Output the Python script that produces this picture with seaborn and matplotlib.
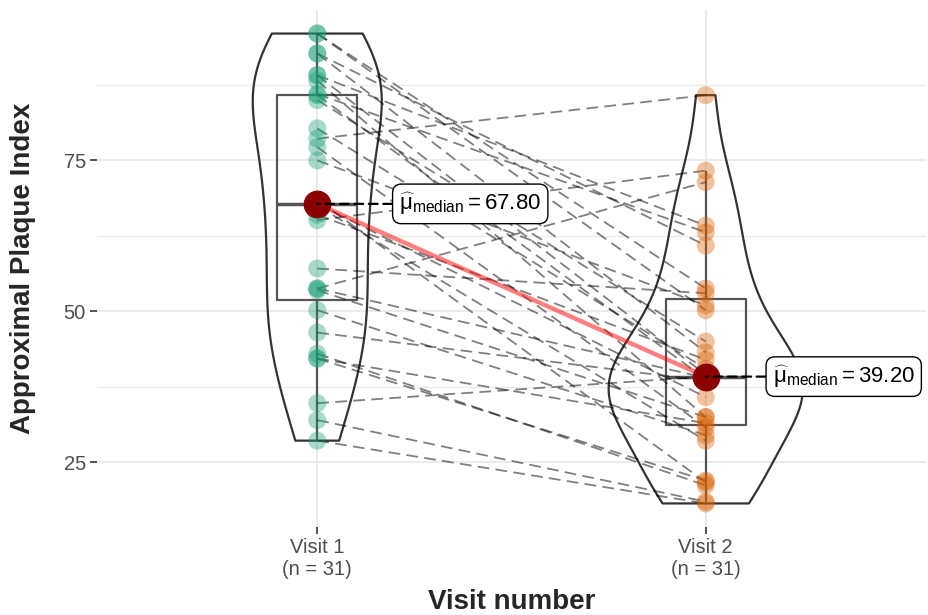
import numpy as np
import pandas as pd
import matplotlib
matplotlib.use("Agg")
import matplotlib.pyplot as plt
import seaborn as sns

categories = ["Visit 1", "Visit 2"]
tick_labels = ["Visit 1\n(n = 31)", "Visit 2\n(n = 31)"]

visit1 = [96.0, 96.0, 92.7, 92.7, 89.1, 89.1, 88.2, 86.0, 85.8, 85.0, 80.3,
          78.6, 77.2, 75.0, 68.5, 67.8, 67.5, 66.0, 65.1, 57.1, 53.8, 53.8,
          50.2, 46.5, 43.0, 53.5, 42.2, 42.2, 34.8, 32.0, 28.6]
visit2 = [50.2, 53.8, 43.2, 60.9, 39.5, 64.2, 32.5, 63.1, 38.8, 45.0, 40.5,
          85.8, 30.8, 51.0, 21.7, 35.8, 28.6, 42.0, 73.3, 53.0, 71.4, 39.0,
          29.5, 38.5, 21.2, 32.5, 31.5, 22.0, 39.2, 18.5, 18.2]

point_colors = ["#1B9E77", "#D95F02"]

sns.set_theme(style="white")
plt.rcParams["font.family"] = ["Liberation Sans", "DejaVu Sans"]
plt.rcParams["mathtext.fontset"] = "custom"
plt.rcParams["mathtext.rm"] = "Liberation Sans"
plt.rcParams["mathtext.it"] = "Liberation Sans"
plt.rcParams["mathtext.sf"] = "Liberation Sans"

n = len(visit1)
df = pd.DataFrame({
    "id": list(range(n)) * 2,
    "visit": ["Visit 1"] * n + ["Visit 2"] * n,
    "value": visit1 + visit2,
})

fig = plt.figure(figsize=(9.29, 6.15), dpi=100)
ax = fig.add_axes([97 / 929, 1 - 527 / 615, (926 - 97) / 929, (527 - 10) / 615])


def nrd0(x):
    x = np.asarray(x, float)
    sd = x.std(ddof=1)
    iqr = np.subtract(*np.percentile(x, [75, 25]))
    return 0.9 * min(sd, iqr / 1.34) * len(x) ** (-0.2)


def max_density(x, h):
    x = np.asarray(x, float)
    grid = np.linspace(x.min(), x.max(), 400)
    d = np.exp(-0.5 * ((grid[:, None] - x[None, :]) / h) ** 2).sum(1)
    d /= len(x) * h * np.sqrt(2 * np.pi)
    return d.max()


groups = [visit1, visit2]
bws = [nrd0(v) for v in groups]
maxd = [max_density(v, h) for v, h in zip(groups, bws)]
base_width = 0.5

# violins (area-scaled like ggplot)
for cat, vals, h, md in zip(categories, groups, bws, maxd):
    sub = df[df.visit == cat]
    sns.violinplot(data=sub, x="visit", y="value", order=categories, ax=ax,
                   fill=False, color="#333333", inner=None, cut=0,
                   width=base_width * md / max(maxd),
                   density_norm="width", linewidth=1.6,
                   bw_method=h / np.std(vals, ddof=1))

# boxes
sns.boxplot(data=df, x="visit", y="value", order=categories, ax=ax,
            fill=False, color="#555555", width=0.205, showcaps=False,
            fliersize=0, linewidth=1.6,
            medianprops=dict(linewidth=2.5, color="#555555"))

# paired dashed lines
for a, b in zip(visit1, visit2):
    ax.plot([0, 1], [a, b], color="black", alpha=0.5, lw=1.3,
            dashes=(6.5, 3.5), zorder=3)

# points
sns.stripplot(data=df, x="visit", y="value", order=categories, hue="visit",
              palette=point_colors, jitter=False, size=13, alpha=0.38,
              linewidth=0, ax=ax, legend=False, zorder=4)

# medians
medians = [float(np.median(visit1)), float(np.median(visit2))]
ax.plot([0, 1], medians, color="red", alpha=0.5, lw=3.2, zorder=5,
        solid_capstyle="butt")
ax.plot([0, 1], medians, "o", color="#8B0000", markersize=19, zorder=6)

offsets = [82, 67]
for i, m in enumerate(medians):
    ax.annotate(r"$\widehat{\mu}_{\mathrm{median}} = $" + f"{m:.2f}",
                xy=(i, m), xytext=(offsets[i], 0), textcoords="offset pixels",
                ha="left", va="center", fontsize=16, color="black",
                bbox=dict(boxstyle="round,pad=0.3,rounding_size=0.4",
                          fc="white", ec="black", lw=1.0),
                arrowprops=dict(arrowstyle="-", color="black", lw=1.6,
                                linestyle=(0, (4, 2.5)), shrinkA=0, shrinkB=0),
                zorder=7)

ax.set_xlim(-0.567, 1.567)
ax.set_ylim(14.3, 99.9)
ax.set_yticks([25, 50, 75])
ax.set_yticks([37.5, 62.5, 87.5], minor=True)
ax.set_xticks([0, 1])
ax.set_xticklabels(tick_labels)
ax.grid(True, which="major", color="#EBEBEB", lw=1.5, zorder=0)
ax.grid(True, which="minor", axis="y", color="#EBEBEB", lw=1.0, zorder=0)
ax.set_axisbelow(True)
for s in ax.spines.values():
    s.set_visible(False)
ax.tick_params(axis="both", which="major", length=5, width=1.2,
               color="#333333", labelcolor="#4D4D4D", labelsize=14.5,
               left=True, bottom=True, pad=3)
ax.tick_params(axis="y", which="minor", length=0)
ax.set_xlabel("Visit number", fontsize=20, fontweight="bold", labelpad=7)
ax.set_ylabel("Approximal Plaque Index", fontsize=20, fontweight="bold")
ax.yaxis.set_label_coords(-0.074, 0.5)

fig.savefig("out.png", dpi=100)
